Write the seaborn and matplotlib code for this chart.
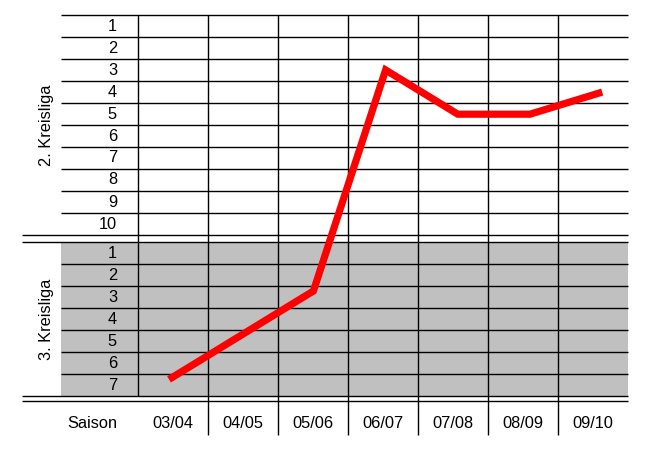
import matplotlib
matplotlib.use("Agg")
import matplotlib.pyplot as plt
import seaborn as sns
import pandas as pd
from matplotlib.patches import Rectangle

# ---- data ----
seasons = ["03/04", "04/05", "05/06", "06/07", "07/08", "08/09", "09/10"]
league = [3, 3, 3, 2, 2, 2, 2]          # 2. or 3. Kreisliga
rank = [7, 5, 3, 3, 5, 5, 4]            # final table position
league_labels = ["2. Kreisliga", "3. Kreisliga"]
rows_2kl = list(range(1, 11))
rows_3kl = list(range(1, 8))
corner_label = "Saison"

sns.set_theme(style="white")
plt.rcParams['font.family'] = ['Liberation Sans', 'DejaVu Sans']
plt.rcParams['text.color'] = 'black'
FS = 11.8

W, H = 655, 453
fig = plt.figure(figsize=(W / 100, H / 100), dpi=100)
fig.patch.set_facecolor("white")

# table axes: x in column units (70px), y in row units (22px)
COLW, ROWH, X0, Y0 = 70.0, 22.0, 138.0, 15.0
ax = fig.add_axes([0, 0, 1, 1])
ax.set_xlim(-X0 / COLW, (W - X0) / COLW)
ax.set_ylim((H - Y0) / ROWH, -Y0 / ROWH)
ax.axis("off")

n2, n3 = len(rows_2kl), len(rows_3kl)
gap = 7 / ROWH
top3 = n2 + gap
bot3 = top3 + n3
dbl2 = bot3 + 5 / ROWH
bottom = (435 - Y0) / ROWH
ncol = len(seasons)
lab_left = (61 - X0) / COLW
dbl_left = (22 - X0) / COLW
lw = 1.0
col = "black"

# gray background for 3. Kreisliga
ax.add_patch(Rectangle((lab_left, top3), ncol - lab_left, n3,
                       facecolor="#c0c0c0", edgecolor="none", zorder=0))

# horizontal lines
for k in range(n2):
    ax.hlines(k, lab_left, ncol, color=col, lw=lw)
for k in range(1, n3):
    ax.hlines(top3 + k, lab_left, ncol, color=col, lw=lw)
for yy in [n2, top3, bot3, dbl2]:
    ax.hlines(yy, dbl_left, ncol, color=col, lw=lw)

# vertical lines
ax.vlines(0, 0, bot3, color=col, lw=lw)
for c in range(1, ncol):
    ax.vlines(c, 0, bottom, color=col, lw=lw)

# row labels
rx = (117 - X0) / COLW
for r in rows_2kl:
    ax.text(rx, r - 0.5, str(r), ha="right", va="center", fontsize=FS, color="black")
for r in rows_3kl:
    ax.text(rx, top3 + r - 0.5, str(r), ha="right", va="center", fontsize=FS, color="black")

lx = (46 - X0) / COLW
ax.text(lx, n2 / 2, league_labels[0], rotation=90, ha="center", va="center",
        fontsize=FS, color="black")
ax.text(lx, top3 + n3 / 2, league_labels[1], rotation=90, ha="center", va="center",
        fontsize=FS, color="black")

sy = (424 - Y0) / ROWH
ax.text((92 - X0) / COLW, sy, corner_label, ha="center", va="center", fontsize=FS, color="black")
for i, s in enumerate(seasons):
    ax.text(i + 0.5, sy, s, ha="center", va="center", fontsize=FS, color="black")

# ---- chart overlay (its own scale, as in the original spreadsheet chart) ----
df = pd.DataFrame({
    "idx": range(len(seasons)),
    "pos": [r + (n2 if lg == 3 else 0) for r, lg in zip(rank, league)],
})
PX0, PXS = 169.0, 72.2      # pixel of first point, pixel step
PY3, PYS = 70.0, 22.1       # pixel of overall position 3, pixel per position
left_px = PX0 - 0.5 * PXS
right_px = PX0 + (len(seasons) - 0.5) * PXS
lax = fig.add_axes([left_px / W, 0, (right_px - left_px) / W, 1])
lax.patch.set_alpha(0)
lax.set_xlim(-0.5, len(seasons) - 0.5)
lax.set_ylim(3 + (H - PY3) / PYS, 3 - PY3 / PYS)
sns.lineplot(data=df, x="idx", y="pos", ax=lax, color="#ff0000", lw=5.2,
             solid_capstyle="butt", solid_joinstyle="miter")
lax.axis("off")

fig.savefig("out.png", dpi=100, facecolor="white")
